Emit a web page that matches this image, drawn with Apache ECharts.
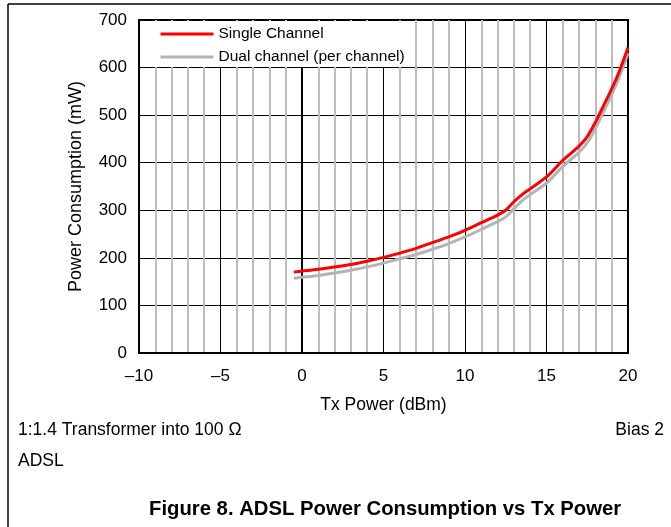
<!DOCTYPE html>
<html><head><meta charset="utf-8">
<script src="https://cdn.jsdelivr.net/npm/echarts@6/dist/echarts.min.js"></script>
<style>html,body{margin:0;padding:0;background:#fff}#c{width:671px;height:527px}</style>
</head><body><div id="c"></div>
<script>
const txPower = [-0.5, 0, 1, 2, 3, 4, 5, 6, 7, 8, 9, 10, 11, 12, 12.5, 13, 13.5, 14, 15, 16, 17, 17.5, 18, 18.5, 19, 19.5, 20];
const singleChannel = [170, 172, 176, 181, 186, 193, 201, 210, 220, 232, 244, 258, 274, 290, 300, 318, 333, 345, 370, 405, 435, 455, 485, 520, 555, 595, 642];
const dualChannel = [157, 159, 163, 168, 174, 181, 189, 198, 207, 218, 230, 244, 260, 276, 286, 303, 320, 333, 357, 392, 422, 442, 472, 507, 543, 583, 630];
const seriesNames = ['Single Channel', 'Dual channel (per channel)'];
const xTitle = 'Tx Power (dBm)';
const yTitle = 'Power Consumption (mW)';
const noteLeft = '1:1.4 Transformer into 100 \u03A9';
const noteRight = 'Bias 2';
const noteLine2 = 'ADSL';
const figTitle = 'Figure 8. ADSL Power Consumption vs Tx Power';

const font = 'Arial, "Liberation Sans", sans-serif';
const chart = echarts.init(document.getElementById('c'), null, {renderer: 'canvas'});
const zip = (xs, ys) => xs.map((x, i) => [x, ys[i]]);
chart.setOption({
  animation: false,
  backgroundColor: '#fff',
  grid: {left: 139, right: 43, top: 20, bottom: 174, show: true, borderColor: '#000', borderWidth: 2, backgroundColor: 'transparent'},
  legend: {
    left: 159, top: 25, orient: 'vertical', itemGap: 5, itemWidth: 53, itemHeight: 14, padding: 0,
    textStyle: {fontFamily: font, fontSize: 15.5, color: '#000', lineHeight: 18},
    itemStyle: {opacity: 0},
    lineStyle: {width: 3},
    data: [seriesNames[0], seriesNames[1]],
    selectedMode: false, z: 10
  },
  xAxis: {
    type: 'value', min: -10, max: 20, interval: 5,
    name: xTitle, nameLocation: 'middle', nameGap: 43,
    nameTextStyle: {fontFamily: font, fontSize: 17.5, color: '#000'},
    axisLine: {show: true, onZero: false, lineStyle: {color: '#000', width: 2}},
    axisTick: {show: false},
    axisLabel: {fontFamily: font, fontSize: 17, color: '#000', margin: 15, formatter: v => String(v).replace('-', '\u2013')},
    splitLine: {show: true, lineStyle: {color: '#000', width: 1}},
    minorTick: {show: false, splitNumber: 5},
    minorSplitLine: {show: true, lineStyle: {color: '#bdbdbd', width: 2}}
  },
  yAxis: {
    type: 'value', min: 0, max: 700, interval: 100,
    name: yTitle, nameLocation: 'middle', nameGap: 54,
    nameTextStyle: {fontFamily: font, fontSize: 18, color: '#000'},
    axisLine: {show: true, lineStyle: {color: '#000', width: 2}},
    axisTick: {show: false},
    axisLabel: {fontFamily: font, fontSize: 17, color: '#000', margin: 12},
    splitLine: {show: true, lineStyle: {color: '#000', width: 1}}
  },
  graphic: [
    {type: 'rect', z: 1, shape: {x: 140, y: 21, width: 274, height: 46}, style: {fill: '#fff'}},
    {type: 'line', z: 100, shape: {x1: 8, y1: 4, x2: 671, y2: 4}, style: {stroke: '#000', lineWidth: 1.5}},
    {type: 'line', z: 100, shape: {x1: 8, y1: 4, x2: 8, y2: 527}, style: {stroke: '#000', lineWidth: 1.5}},
    {type: 'text', left: 18, top: 421, style: {text: noteLeft, font: '17.5px ' + font, fill: '#000'}},
    {type: 'text', right: 7, top: 421, style: {text: noteRight, font: '17.5px ' + font, fill: '#000'}},
    {type: 'text', left: 18, top: 452, style: {text: noteLine2, font: '17.5px ' + font, fill: '#000'}},
    {type: 'text', left: 149, top: 499, style: {text: figTitle, font: 'bold 20.3px ' + font, fill: '#000'}}
  ],
  series: [
    {name: seriesNames[0], type: 'line', data: zip(txPower, singleChannel), smooth: 0.3, symbol: 'none', z: 4,
     lineStyle: {color: '#ff0000', width: 3}, itemStyle: {color: '#ff0000'}},
    {name: seriesNames[1], type: 'line', data: zip(txPower, dualChannel), smooth: 0.3, symbol: 'none', z: 3,
     lineStyle: {color: '#b4b4b4', width: 3}, itemStyle: {color: '#b4b4b4'}}
  ]
});
</script></body></html>
